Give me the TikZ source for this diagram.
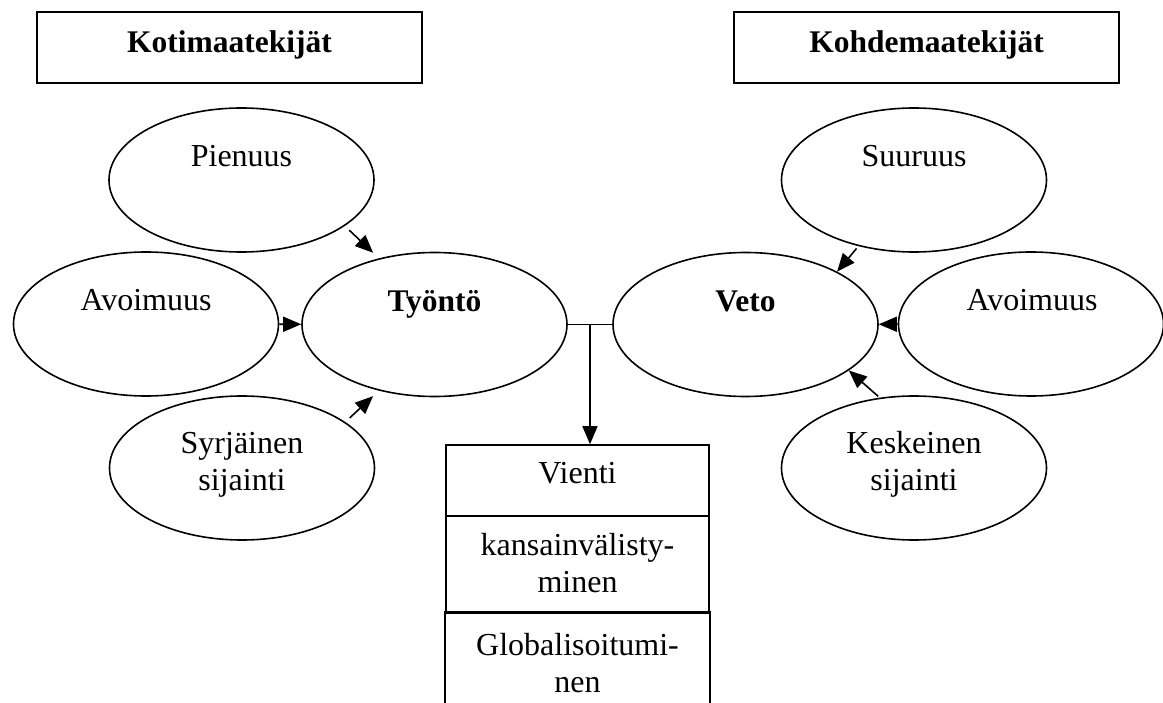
\documentclass[tikz,border=0pt]{standalone}
\usepackage{fontspec}
\setmainfont{Liberation Serif}
\usetikzlibrary{arrows.meta,shapes.geometric,calc}

\begin{document}
\begin{tikzpicture}
    [x=1pt, y=-1pt,
     Oval/.style={ellipse, draw=black, line width=1.6pt, minimum width=265pt, minimum height=144pt, inner sep=0pt},
     Box/.style={rectangle, draw=black, line width=1.6pt, minimum width=263pt, inner sep=0pt},
     Txt/.style={anchor=base, align=center, inner sep=0pt, font=\fontsize{32}{37}\selectfont},
     Bold/.style={Txt, font=\fontsize{31.5}{37}\selectfont\bfseries},
     Line/.style={line width=1.6pt},
     Arr/.style={Line, -{Triangle[length=18pt, width=15pt]}}]
	\useasboundingbox (0,0) rectangle (1163,703);
	% otsikot
	\node[Box, minimum width=385pt, minimum height=71pt] (Koti) at (229.5, 47.5) {};
	\node[Box, minimum width=385pt, minimum height=71pt] (Kohde) at (926.5, 47.5) {};
	\node[Bold] (Koti-t) at (229.5, 53) {Kotimaatekijät};
	\node[Bold] (Kohde-t) at (926.5, 53) {Kohdemaatekijät};
	% tekijat
	\foreach \n/\x/\y in {Pienuus/241.5/180, AvoimuusK/146/324, Syrjainen/242/468,
		Tyonto/434.5/324.5, Veto/745.5/324.5,
		Suuruus/914/180, AvoimuusR/1031/324, Keskeinen/914/468}
		\node[Oval] (\n) at (\x, \y) {};
	\node[Txt] (Pienuus-t) at (241.5, 167) {Pienuus};
	\node[Txt] (AvoimuusK-t) at (146, 311) {Avoimuus};
	\node[Txt] (Syrjainen-t) at (242, 490) {Syrjäinen\\sijainti};
	\node[Bold] (Tyonto-t) at (434.5, 312) {Työntö};
	\node[Bold] (Veto-t) at (745.5, 312) {Veto};
	\node[Txt] (Suuruus-t) at (914, 167) {Suuruus};
	\node[Txt] (AvoimuusR-t) at (1032, 311) {Avoimuus};
	\node[Txt] (Keskeinen-t) at (914, 490) {Keskeinen\\sijainti};
	% nuolet
	\draw[Arr, shorten <=6pt, shorten >=8pt] (Pienuus.-24) -- (Tyonto.130);
	\draw[Arr] (AvoimuusK) -- (Tyonto);
	\draw[Arr, shorten <=6pt, shorten >=8pt] (Syrjainen.24) -- (Tyonto.230);
	\draw[Arr, shorten <=3pt] (Suuruus.230) -- (Veto.30);
	\draw[Arr] (AvoimuusR) -- (Veto);
	\draw[Arr, shorten <=2pt] (Keskeinen.116) -- (Veto.-24);
	% vienti
	\node[Box, minimum height=71pt] (Vienti) at (577.5, 480.5) {};
	\node[Box, minimum height=97pt] (Kansainv) at (577.5, 564.5) {};
	\node[Box, draw=none, minimum height=90pt] (Glob) at (577.5, 658) {};
	\draw[Line] (Glob.south west) |- (Glob.north east) -- (Glob.south east);
	\node[Txt] (Vienti-t) at (577.5, 483) {Vienti};
	\node[Txt] (Kansainv-t) at (577.5, 592) {kansainvälisty-\\minen};
	\node[Txt] (Glob-t) at (577.5, 692) {Globalisoitumi-\\nen};
	\coordinate (Haara) at ($(Tyonto.east)!0.5!(Veto.west)$);
	\draw[Line] (Tyonto.east) -- (Veto.west);
	\draw[Arr] (Haara) -- (Haara |- Vienti.north);
\end{tikzpicture}
\end{document}
